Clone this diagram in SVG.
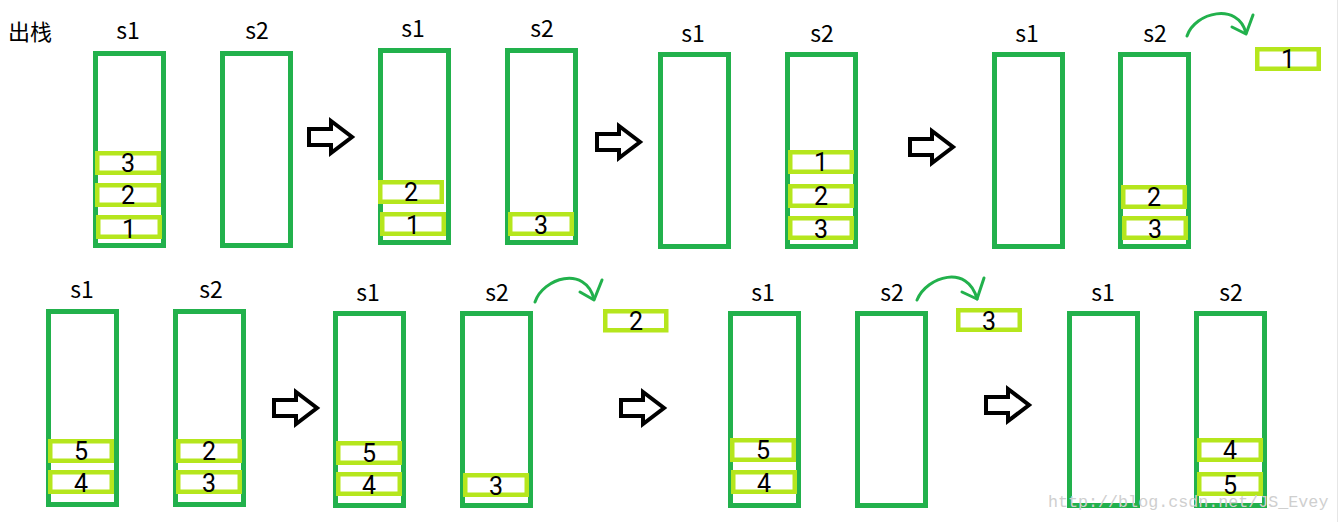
<svg xmlns="http://www.w3.org/2000/svg" width="1340" height="522" viewBox="0 0 1340 522">
<style>
.stk{fill:none;stroke:#22b14c;stroke-width:5}
.itm{fill:#fff;stroke:#b5e61d;stroke-width:4.5}
.lbl{font-family:"Microsoft YaHei","Noto Sans CJK SC","Noto Sans",sans-serif;font-size:23px;fill:#000;text-anchor:middle}
.num{font-family:Roboto,"Noto Sans",sans-serif;font-size:25px;fill:#000;text-anchor:middle}
.cur{fill:none;stroke:#22b14c;stroke-width:3;stroke-linecap:round;stroke-linejoin:round}
.wm{font-family:"Liberation Mono",monospace;font-size:16.7px;fill:#cfcfcf}
</style>
<defs>
<path id="bigArrow" d="M2,10 H24 V2 L45,18 L24,34 V26 H2 Z" fill="#fff" stroke="#000" stroke-width="4"/>
</defs>
<rect width="1340" height="522" fill="#fff"/>
<line x1="1337.5" y1="0" x2="1337.5" y2="522" stroke="#e6e6e6" stroke-width="1"/>
<text x="8" y="40" font-family="'Microsoft YaHei','Noto Sans CJK SC',sans-serif" font-size="22">出栈</text>

<g id="p1">
<text class="lbl" x="128" y="39">s1</text><text class="lbl" x="257" y="39">s2</text>
<rect class="stk" x="95.5" y="53.5" width="68" height="192"/>
<rect class="stk" x="222.5" y="53.5" width="68" height="192"/>
<rect class="itm" x="97.25" y="153.25" width="61.5" height="19.5"/><text class="num" x="128" y="172">3</text>
<rect class="itm" x="97.25" y="185.25" width="61.5" height="19.5"/><text class="num" x="128" y="204">2</text>
<rect class="itm" x="98.25" y="217.25" width="61.5" height="19.5"/><text class="num" x="129" y="238">1</text>
</g>

<g id="p2">
<text class="lbl" x="413" y="37">s1</text><text class="lbl" x="542" y="37">s2</text>
<rect class="stk" x="380.5" y="50.5" width="68" height="192"/>
<rect class="stk" x="507.5" y="50.5" width="68" height="192"/>
<rect class="itm" x="380.25" y="182.25" width="61.5" height="19.5"/><text class="num" x="411" y="201">2</text>
<rect class="itm" x="382.25" y="214.25" width="61.5" height="19.5"/><text class="num" x="413" y="234">1</text>
<rect class="itm" x="510.25" y="214.25" width="61.5" height="19.5"/><text class="num" x="541" y="234">3</text>
</g>

<g id="p3">
<text class="lbl" x="693" y="42">s1</text><text class="lbl" x="822" y="42">s2</text>
<rect class="stk" x="660.5" y="54.5" width="68" height="192"/>
<rect class="stk" x="787.5" y="54.5" width="68" height="192"/>
<rect class="itm" x="790.25" y="152.25" width="61.5" height="19.5"/><text class="num" x="821" y="171">1</text>
<rect class="itm" x="790.25" y="186.25" width="61.5" height="19.5"/><text class="num" x="821" y="205">2</text>
<rect class="itm" x="790.25" y="218.25" width="61.5" height="19.5"/><text class="num" x="821" y="238">3</text>
</g>

<g id="p4">
<text class="lbl" x="1027" y="42">s1</text><text class="lbl" x="1155" y="42">s2</text>
<rect class="stk" x="994.5" y="54.5" width="68" height="192"/>
<rect class="stk" x="1120.5" y="54.5" width="68" height="192"/>
<rect class="itm" x="1123.25" y="187.25" width="61.5" height="19.5"/><text class="num" x="1154" y="206">2</text>
<rect class="itm" x="1124.25" y="218.25" width="61.5" height="19.5"/><text class="num" x="1155" y="238">3</text>
</g>

<g id="out1">
<rect class="itm" x="1257.25" y="49.25" width="61.5" height="19.5"/><text class="num" x="1288" y="68">1</text>
</g>

<g id="p5">
<text class="lbl" x="82" y="298">s1</text><text class="lbl" x="211" y="298">s2</text>
<rect class="stk" x="48.5" y="311.5" width="68" height="193"/>
<rect class="stk" x="175.5" y="311.5" width="68" height="193"/>
<rect class="itm" x="50.25" y="441.25" width="61.5" height="19.5"/><text class="num" x="81" y="460">5</text>
<rect class="itm" x="50.25" y="472.25" width="61.5" height="19.5"/><text class="num" x="81" y="492">4</text>
<rect class="itm" x="178.25" y="441.25" width="61.5" height="19.5"/><text class="num" x="209" y="460">2</text>
<rect class="itm" x="178.25" y="472.25" width="61.5" height="19.5"/><text class="num" x="209" y="492">3</text>
</g>

<g id="p6">
<text class="lbl" x="368" y="301">s1</text><text class="lbl" x="497" y="301">s2</text>
<rect class="stk" x="335.5" y="313.5" width="68" height="192"/>
<rect class="stk" x="462.5" y="313.5" width="68" height="192"/>
<rect class="itm" x="338.25" y="443.25" width="61.5" height="19.5"/><text class="num" x="369" y="462">5</text>
<rect class="itm" x="338.25" y="474.25" width="61.5" height="19.5"/><text class="num" x="369" y="494">4</text>
<rect class="itm" x="465.25" y="475.25" width="61.5" height="19.5"/><text class="num" x="496" y="495">3</text>
</g>

<g id="out2">
<rect class="itm" x="605.25" y="311.25" width="61" height="19"/><text class="num" x="636" y="330">2</text>
</g>

<g id="p7">
<text class="lbl" x="763" y="301">s1</text><text class="lbl" x="892" y="301">s2</text>
<rect class="stk" x="730.5" y="313.5" width="68" height="192"/>
<rect class="stk" x="857.5" y="313.5" width="68" height="192"/>
<rect class="itm" x="732.25" y="440.25" width="61.5" height="19.5"/><text class="num" x="763" y="459">5</text>
<rect class="itm" x="733.25" y="472.25" width="61.5" height="19.5"/><text class="num" x="764" y="492">4</text>
</g>

<g id="out3">
<rect class="itm" x="958.25" y="310.25" width="61.5" height="19.5"/><text class="num" x="989" y="330">3</text>
</g>

<g id="p8">
<text class="lbl" x="1103" y="301">s1</text><text class="lbl" x="1231" y="301">s2</text>
<rect class="stk" x="1069.5" y="313.5" width="68" height="192"/>
<rect class="stk" x="1196.5" y="313.5" width="68" height="192"/>
<rect class="itm" x="1199.25" y="440.25" width="61.5" height="19.5"/><text class="num" x="1230" y="459">4</text>
<rect class="itm" x="1199.25" y="474.25" width="61.5" height="19.5"/><text class="num" x="1230" y="494">5</text>
</g>

<g id="connectors">
<use href="#bigArrow" x="307" y="119"/>
<use href="#bigArrow" x="595" y="124"/>
<use href="#bigArrow" x="908" y="129"/>
<use href="#bigArrow" x="272" y="390"/>
<use href="#bigArrow" x="619" y="390"/>
<use href="#bigArrow" x="984" y="387"/>
<path class="cur" d="M1187,36 C1195,12 1238,2 1246,33"/>
<path class="cur" d="M1232,27 L1246,34 L1253,15"/>
<path class="cur" d="M535,302 C543,278 585,265 594,299"/>
<path class="cur" d="M580,292 L594,300 L602,280"/>
<path class="cur" d="M917,300 C927,276 968,264 977,299"/>
<path class="cur" d="M962,292 L977,299 L984,278"/>
</g>

<text class="wm" x="1048" y="507">http://blog.csdn.net/JS_Evey</text>
</svg>
